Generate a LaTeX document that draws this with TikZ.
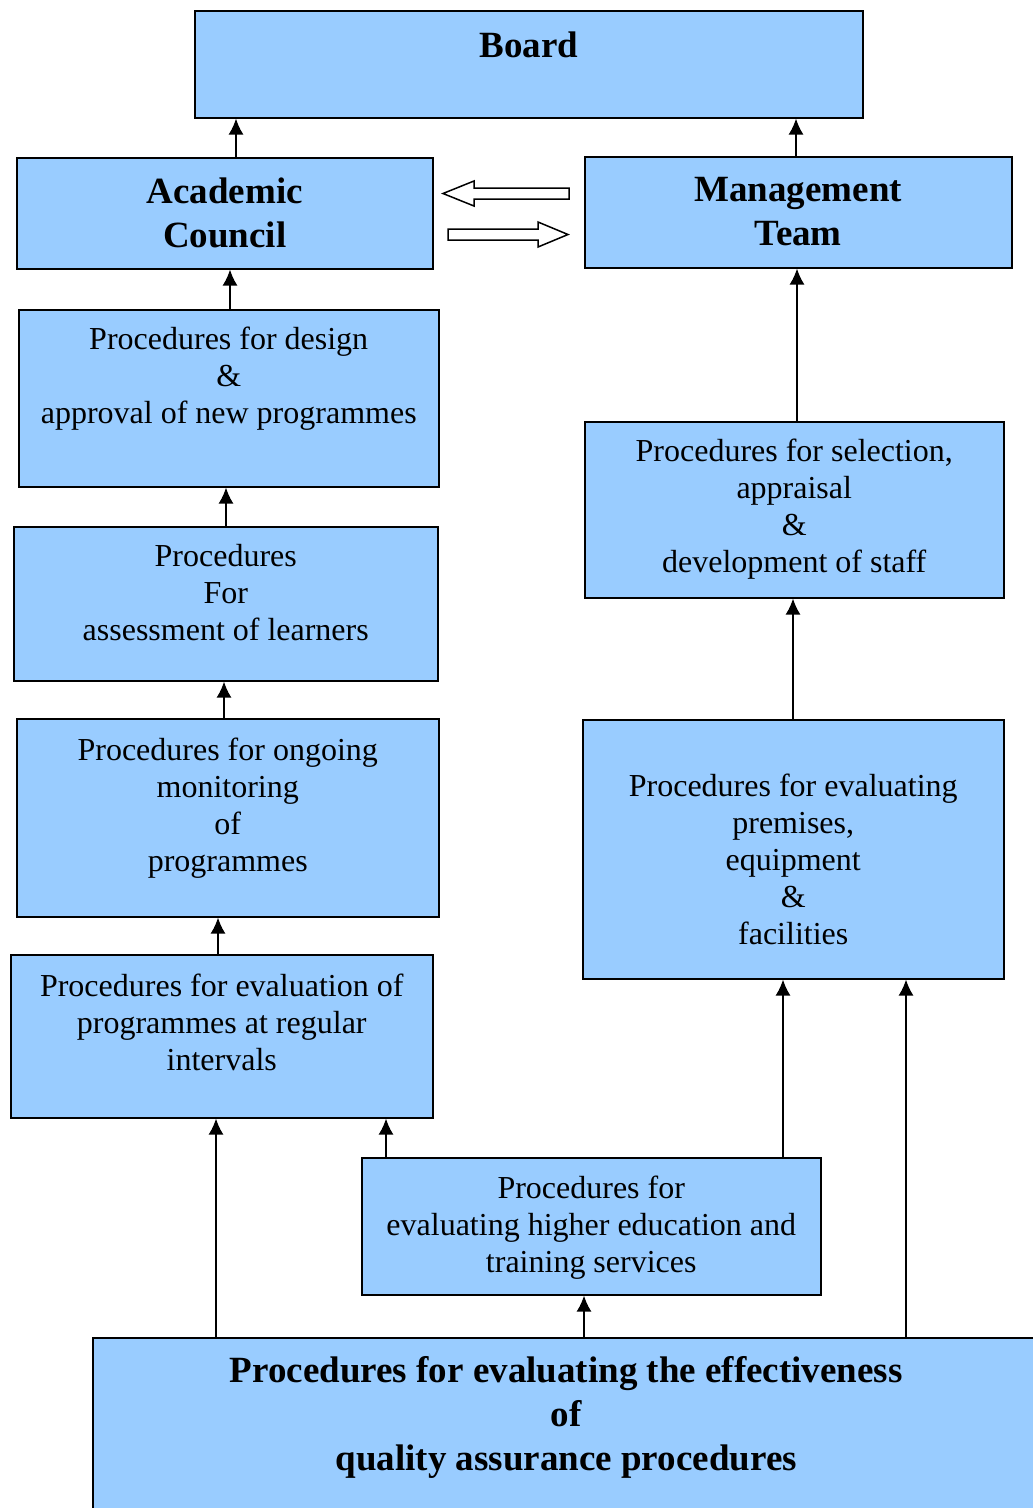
\documentclass[tikz,border=0pt]{standalone}
\usepackage{fontspec}
\setmainfont{Liberation Serif}
\usetikzlibrary{arrows.meta}
\definecolor{boxblue}{RGB}{153,204,255}
\tikzset{
  proc/.style={draw, line width=1.5pt, fill=boxblue, inner sep=0pt, align=center,
    anchor=north west, font=\fontsize{32}{37}\selectfont},
  head/.style={proc, font=\fontsize{37}{44}\selectfont\bfseries},
  up/.style={-{Latex[length=16pt,width=15pt]}, line width=2pt},
  hollow/.style={draw, line width=1.5pt, fill=white, line join=miter}
}
\begin{document}
\begin{tikzpicture}[x=1pt, y=-1pt]
  \useasboundingbox (0,0) rectangle (1033,1508);
  \node[head, minimum width=668pt, text height=47pt, text depth=60pt] (board) at (194,10) {Board};
  \node[head, minimum width=416pt, text height=90pt, text depth=21pt] (acad) at (16,157) {Academic\\Council};
  \node[head, minimum width=427pt, text height=89pt, text depth=22pt] (mgmt) at (584,156) {Management\\Team};
  \node[proc, minimum width=420pt, text height=114pt, text depth=63pt] (design) at (18,309)
    {Procedures for design\\\&\\approval of new programmes};
  \node[proc, minimum width=424pt, text height=114pt, text depth=40pt] (assess) at (13,526)
    {Procedures\\For\\assessment of learners};
  \node[proc, minimum width=422pt, text height=153pt, text depth=45pt] (monitor) at (16,718)
    {Procedures for ongoing\\monitoring\\of\\programmes};
  \node[proc, minimum width=422pt, text height=116pt, text depth=47pt] (regular) at (10,954)
    {Procedures for evaluation of\\programmes at regular\\intervals};
  \node[proc, minimum width=419pt, text height=151pt, text depth=25pt] (staff) at (584,421)
    {Procedures for selection,\\appraisal\\\&\\development of staff};
  \node[proc, minimum width=421pt, text height=225pt, text depth=34pt] (premises) at (582,719)
    {Procedures for evaluating\\premises,\\equipment\\\&\\facilities};
  \node[proc, minimum width=459pt, text height=115pt, text depth=22pt] (services) at (361,1157)
    {Procedures for\\evaluating higher education and\\training services};
  \node[head, minimum width=947pt, text height=133pt, text depth=60pt] (qa) at (92,1337)
    {Procedures for evaluating the effectiveness\\of\\quality assurance procedures};
  \begin{scope}[up]
    \draw (acad.north -| 236,0) -- (board.south -| 236,0);
    \draw (mgmt.north -| 796,0) -- (board.south -| 796,0);
    \draw (design.north -| 230,0) -- (acad.south -| 230,0);
    \draw (assess.north -| 226,0) -- (design.south -| 226,0);
    \draw (monitor.north -| 224,0) -- (assess.south -| 224,0);
    \draw (regular.north -| 218,0) -- (monitor.south -| 218,0);
    \draw (staff.north -| 797,0) -- (mgmt.south -| 797,0);
    \draw (premises.north -| 793,0) -- (staff.south -| 793,0);
    \draw (qa.north -| 216,0) -- (regular.south -| 216,0);
    \draw (services.north -| 386,0) -- (regular.south -| 386,0);
    \draw (services.north -| 783,0) -- (premises.south -| 783,0);
    \draw (qa.north -| 584,0) -- (services.south -| 584,0);
    \draw (qa.north -| 906,0) -- (premises.south -| 906,0);
  \end{scope}
  \draw[hollow] (569,188) -- (474,188) -- (474,181) -- (443,193.5) -- (474,206) -- (474,199) -- (569,199) -- cycle;
  \draw[hollow] (448,229) -- (538,229) -- (538,222) -- (568,234.5) -- (538,247) -- (538,240) -- (448,240) -- cycle;
\end{tikzpicture}
\end{document}
